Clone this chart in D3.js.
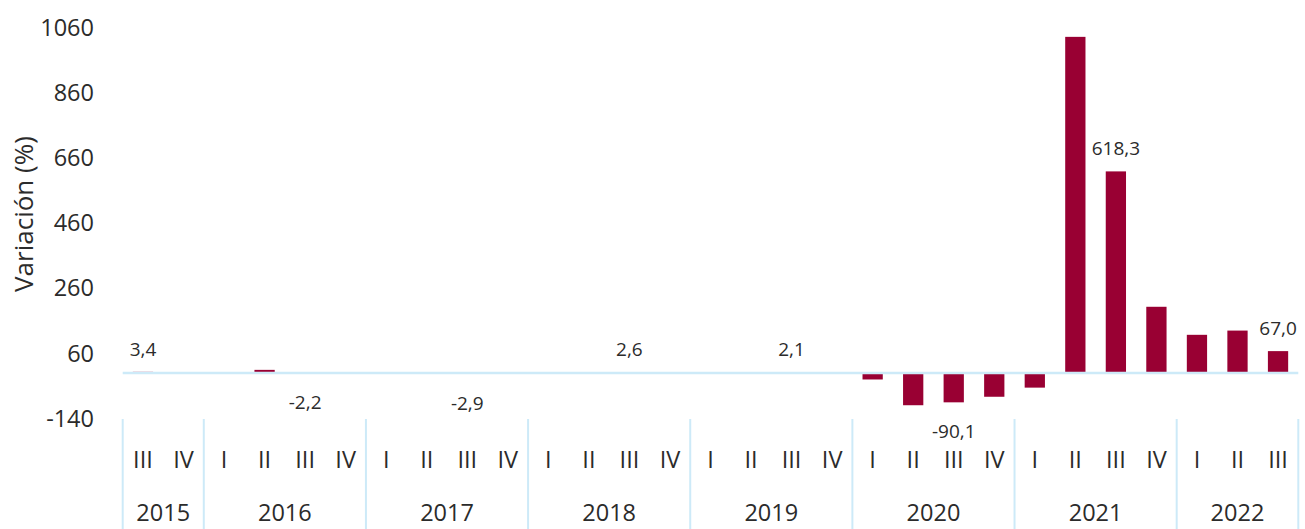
<!DOCTYPE html>
<html>
<head>
<meta charset="utf-8">
<script src="https://cdn.jsdelivr.net/npm/d3@7"></script>
<style>
  body { margin: 0; background: #fff; }
  svg text { font-family: "Open Sans", "Noto Sans", sans-serif; fill: #2b2b2b; }
</style>
</head>
<body>
<svg id="chart" width="1305" height="529"></svg>
<script>
// quarters, year groups and values (variación %)
const years = ["2015", "2016", "2017", "2018", "2019", "2020", "2021", "2022"];
const quartersPerYear = [["III", "IV"], ["I", "II", "III", "IV"], ["I", "II", "III", "IV"], ["I", "II", "III", "IV"],
                         ["I", "II", "III", "IV"], ["I", "II", "III", "IV"], ["I", "II", "III", "IV"], ["I", "II", "III"]];
const values = [3.4, 2.0,
                1.5, 9.5, -2.2, -1.0,
                1.2, 2.0, -2.9, 1.5,
                1.8, 2.2, 2.6, 1.9,
                1.4, 2.3, 2.1, 1.6,
                -20, -99, -90.1, -73,
                -45, 1031, 618.3, 203,
                117, 130, 67.0];
const labelled = ["2015-III", "2016-III", "2017-III", "2018-III", "2019-III", "2020-III", "2021-III", "2022-III"];
const yTicks = [-140, 60, 260, 460, 660, 860, 1060];

const svg = d3.select("#chart");
const left = 122.7, right = 1298.3;

const data = [];
years.forEach((y, i) => quartersPerYear[i].forEach(q => {
    data.push({ key: y + "-" + q, year: y, q: q, value: values[data.length] });
}));

const x = d3.scaleBand()
    .domain(data.map(d => d.key))
    .range([left, right])
    .paddingInner(0.5)
    .paddingOuter(0.25);

const y = d3.scaleLinear()
    .domain([-140, 1060])
    .range([418.6, 27.4]);

// comma decimals, plain hyphen for negatives
const fmt = v => v.toFixed(1).replace(".", ",");

// y axis labels (no axis line)
svg.append("g")
    .selectAll("text")
    .data(yTicks)
    .enter().append("text")
    .attr("x", 94)
    .attr("y", d => y(d))
    .attr("dy", "0.35em")
    .attr("text-anchor", "end")
    .attr("font-size", 23.5)
    .text(d => d);

svg.append("text")
    .attr("transform", `translate(33,${214}) rotate(-90)`)
    .attr("text-anchor", "middle")
    .attr("font-size", 26)
    .text("Variación (%)");

// bars
svg.append("g")
    .selectAll("rect")
    .data(data)
    .enter().append("rect")
    .attr("x", d => x(d.key))
    .attr("width", x.bandwidth())
    .attr("y", d => Math.min(y(d.value), y(0)))
    .attr("height", d => Math.abs(y(d.value) - y(0)))
    .attr("fill", "#990033");

// zero line
svg.append("line")
    .attr("x1", left).attr("x2", right)
    .attr("y1", y(0)).attr("y2", y(0))
    .attr("stroke", "#cdeaf8")
    .attr("stroke-width", 2.5);

// data labels
svg.append("g")
    .selectAll("text")
    .data(data.filter(d => labelled.includes(d.key)))
    .enter().append("text")
    .attr("x", d => x(d.key) + x.bandwidth() / 2)
    .attr("y", d => d.value >= 0 ? y(d.value) - 23 : y(d.value) + 29)
    .attr("dy", "0.35em")
    .attr("text-anchor", "middle")
    .attr("font-size", 19)
    .text(d => fmt(d.value));

// category axis: quarter labels, year labels, separators
svg.append("g")
    .selectAll("text")
    .data(data)
    .enter().append("text")
    .attr("x", d => x(d.key) + x.bandwidth() / 2)
    .attr("y", 460)
    .attr("dy", "0.35em")
    .attr("text-anchor", "middle")
    .attr("font-size", 23.5)
    .text(d => d.q);

const groups = years.map(yr => {
    const keys = data.filter(d => d.year === yr).map(d => d.key);
    const x0 = x(keys[0]) - x.step() * 0.25;
    const x1 = x(keys[keys.length - 1]) + x.bandwidth() + x.step() * 0.25;
    return { year: yr, x0, x1 };
});

svg.append("g")
    .selectAll("line")
    .data(groups.map(g => g.x0).concat([right]))
    .enter().append("line")
    .attr("x1", d => d).attr("x2", d => d)
    .attr("y1", 419).attr("y2", 529)
    .attr("stroke", "#cdeaf8")
    .attr("stroke-width", 2);

svg.append("g")
    .selectAll("text")
    .data(groups)
    .enter().append("text")
    .attr("x", d => (d.x0 + d.x1) / 2)
    .attr("y", 513)
    .attr("dy", "0.35em")
    .attr("text-anchor", "middle")
    .attr("font-size", 23.5)
    .text(d => d.year);
</script>
</body>
</html>
